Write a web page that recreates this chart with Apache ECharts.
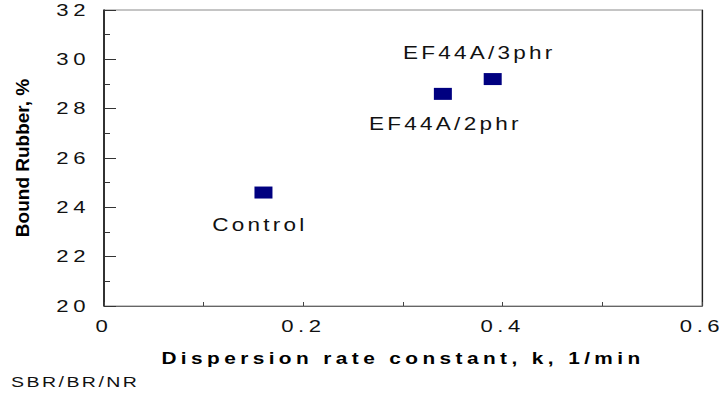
<!DOCTYPE html>
<html>
<head>
<meta charset="utf-8">
<script src="https://cdn.jsdelivr.net/npm/echarts@6/dist/echarts.min.js"></script>
<style>
  html, body { margin: 0; padding: 0; background: #fff; }
  #chart { width: 719px; height: 398px; }
</style>
</head>
<body>
<div id="chart"></div>
<script>
// Bound rubber vs. dispersion rate constant for three compounds
const sampleNames = ['Control', 'EF44A/2phr', 'EF44A/3phr'];
const rateConstant = [0.16, 0.34, 0.39];      // k, 1/min
const boundRubber = [24.6, 28.6, 29.2];       // %
const xTickValues = [0, 0.2, 0.4, 0.6];
const yTickValues = [20, 22, 24, 26, 28, 30, 32];
const xTitle = 'Dispersion rate constant, k, 1/min';
const yTitle = 'Bound Rubber, %';
const footNote = 'SBR/BR/NR';

const FONT = '"Liberation Sans", Arial, Helvetica, sans-serif';

// label placement around each marker (pixels)
const labelPlacement = {
  'Control':    [-3.5, 32],
  'EF44A/2phr': [2.5, 30.5],
  'EF44A/3phr': [-13.4, -26.5]
};

const chart = echarts.init(document.getElementById('chart'), null, { renderer: 'svg' });

const axisCommon = {
  type: 'value',
  splitLine: { show: false },
  axisLabel: { fontFamily: FONT, fontSize: 17, color: '#111' }
};

chart.setOption({
  animation: false,
  backgroundColor: '#fff',
  grid: {
    left: 104, right: 17, top: 10, bottom: 92,
    show: true, borderColor: '#8a8a8a', borderWidth: 1, backgroundColor: 'transparent'
  },
  xAxis: Object.assign({}, axisCommon, {
    min: xTickValues[0], max: xTickValues[xTickValues.length - 1], interval: 0.2,
    axisLine: { show: true, onZero: false, lineStyle: { color: '#666', width: 1 } },
    axisTick: { show: true, inside: true, length: 4, lineStyle: { color: '#444' } },
    minorTick: { show: true, splitNumber: 2, length: 4, lineStyle: { color: '#444' } },
    axisLabel: Object.assign({}, axisCommon.axisLabel, {
      margin: 12,
      formatter: v => String(+v.toFixed(1))
    }),
    name: xTitle,
    nameLocation: 'middle',
    nameGap: 44,
    nameTextStyle: { fontFamily: FONT, fontSize: 16, fontWeight: 'bold', color: '#000' }
  }),
  yAxis: [
    Object.assign({}, axisCommon, {
      min: yTickValues[0], max: yTickValues[yTickValues.length - 1], interval: 2,
      axisLine: { show: true, onZero: false, lineStyle: { color: '#000', width: 1.5 } },
      axisTick: { show: true, inside: true, length: 12, lineStyle: { color: '#333' } },
      minorTick: { show: true, splitNumber: 2, length: 6, lineStyle: { color: '#333' } },
      axisLabel: Object.assign({}, axisCommon.axisLabel, {
        margin: 14, padding: [6, 0, 0, 0]
      }),
      name: yTitle,
      nameLocation: 'middle',
      nameGap: 72,
      nameTextStyle: { fontFamily: FONT, fontSize: 19, fontWeight: 'bold', color: '#000' }
    }),
    {
      type: 'value', position: 'right',
      min: yTickValues[0], max: yTickValues[yTickValues.length - 1],
      axisLine: { show: true, onZero: false, lineStyle: { color: '#222', width: 1.2 } },
      axisTick: { show: false }, axisLabel: { show: false }, splitLine: { show: false }
    }
  ],
  graphic: [{
    type: 'text',
    left: 11, top: 374,
    style: { text: footNote, font: '15px ' + FONT, fill: '#111' }
  }],
  series: [{
    type: 'scatter',
    symbol: 'rect',
    symbolSize: [18, 12],
    itemStyle: { color: '#000080', opacity: 1 },
    label: {
      show: true, position: 'inside',
      fontFamily: FONT, fontSize: 18, color: '#111',
      formatter: p => p.name
    },
    data: sampleNames.map((name, i) => ({
      name,
      value: [rateConstant[i], boundRubber[i]],
      label: { offset: labelPlacement[name] }
    }))
  }]
});

// Wide, tracked lettering: stretch glyphs horizontally and add tracking per text group
function textStyleFor(t) {
  if (t === yTitle) return null;
  if (t === xTitle) return { k: 1.3, s: 3.4 };
  if (t === footNote) return { k: 1.3, s: 1.9 };
  if (sampleNames.indexOf(t) >= 0) return { k: 1.25, s: 2.6 };
  if (/^[0-9.]+$/.test(t)) return { k: 1.3, s: 3.5 };
  return null;
}
function widenTexts() {
  const svg = document.querySelector('#chart svg');
  if (!svg) return;
  svg.querySelectorAll('text').forEach(el => {
    const cfg = textStyleFor(el.textContent.trim());
    if (!cfg || el.getAttribute('data-wide')) return;
    el.setAttribute('letter-spacing', cfg.s);
    const len = el.getComputedTextLength();
    el.setAttribute('textLength', (len * cfg.k).toFixed(2));
    el.setAttribute('lengthAdjust', 'spacingAndGlyphs');
    el.setAttribute('data-wide', '1');
  });
}
widenTexts();
chart.on('finished', widenTexts);
</script>
</body>
</html>
